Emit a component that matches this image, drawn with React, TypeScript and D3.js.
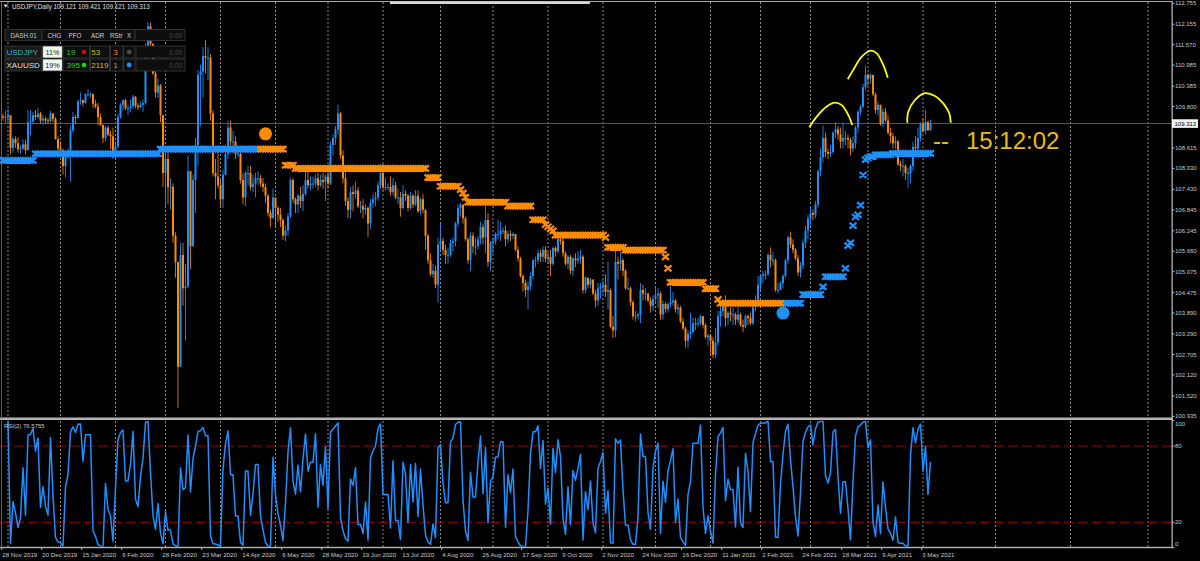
import React from 'react';
import * as d3 from 'd3';

// ---------- DATA ----------
const closes = [
  109.49,109.50,109.55,108.62,108.87,108.75,108.58,108.60,108.72,108.55,
  109.35,109.37,109.55,109.50,109.60,109.40,109.45,109.40,109.38,109.60,
  109.45,108.87,108.60,108.55,108.10,108.38,108.45,109.12,109.50,109.48,
  109.95,109.98,109.90,110.15,110.15,110.15,109.88,109.80,109.50,109.28,
  108.90,109.20,109.00,108.95,108.35,108.65,109.50,109.85,109.98,109.75,
  109.75,109.80,110.08,109.82,109.78,109.85,109.90,111.40,112.10,111.60,
  110.75,110.20,110.40,109.55,107.90,108.30,107.50,107.50,106.10,105.35,
  102.35,105.55,104.60,104.65,107.95,105.80,107.70,108.70,110.70,110.80,
  111.25,111.20,111.20,109.60,107.90,107.80,107.55,107.15,107.85,108.45,
  109.20,108.80,108.80,108.45,108.45,107.70,107.20,107.90,107.90,107.50,
  107.60,107.75,107.75,107.60,107.50,107.25,106.75,106.60,107.20,106.90,
  106.70,106.55,106.10,106.25,106.65,107.70,107.15,107.00,107.25,107.10,
  107.30,107.70,107.55,107.60,107.60,107.75,107.55,107.70,107.65,107.80,
  107.60,108.70,108.90,109.15,109.60,108.40,107.75,107.10,106.85,107.35,
  107.30,107.40,106.95,106.95,106.85,106.90,106.45,107.05,107.15,107.20,
  107.55,107.90,107.50,107.50,107.50,107.35,107.55,107.20,107.20,106.90,
  107.30,107.25,106.90,107.25,107.00,107.25,106.80,107.15,106.85,106.10,
  105.40,105.00,105.10,104.70,105.85,105.95,105.70,105.55,105.55,105.90,
  105.95,106.45,106.90,107.00,106.60,106.00,105.40,106.10,105.80,105.80,
  106.00,106.35,106.05,106.55,105.35,105.90,105.95,106.15,106.15,106.25,
  106.25,106.00,106.15,106.10,106.15,105.70,105.45,104.95,104.75,104.55,
  104.65,104.95,105.40,105.40,105.60,105.50,105.70,105.45,105.50,105.30,
  105.75,105.65,106.00,105.95,105.60,105.30,105.50,105.10,105.45,105.40,
  105.45,105.50,104.55,104.90,104.70,104.85,104.45,104.25,104.60,104.65,
  104.70,104.50,104.55,103.50,103.40,105.35,105.30,105.40,105.10,104.60,
  104.60,104.20,103.80,103.80,103.85,104.55,104.45,104.45,104.25,104.10,
  104.30,104.40,104.45,103.85,104.15,104.00,104.15,104.20,104.25,104.00,
  104.05,103.65,103.45,103.10,103.30,103.35,103.60,103.60,103.60,103.80,
  103.55,103.20,103.25,103.10,102.70,103.05,103.80,103.95,104.25,103.75,
  103.90,103.85,103.85,103.70,103.85,103.55,103.50,103.80,103.75,103.60,
  104.05,104.25,104.70,104.95,105.00,105.00,105.55,105.40,105.40,104.55,
  104.55,104.75,104.95,105.40,106.05,105.85,105.70,105.45,105.05,105.25,
  105.90,106.25,106.60,106.75,106.70,107.00,107.95,108.35,108.90,108.50,
  108.45,108.50,109.05,109.15,109.00,108.80,108.90,108.90,108.85,108.60,
  108.75,109.20,109.65,109.80,110.35,110.70,110.60,110.70,110.15,109.70,
  109.85,109.30,109.65,109.40,109.05,108.95,108.75,108.80,108.15,108.10,
  108.10,107.90,107.90,108.10,108.65,108.60,108.90,109.30,109.10,109.35,
  109.12,109.313,
];
const highs = [
  109.60,109.68,109.73,109.55,108.94,108.95,108.92,108.70,108.86,108.86,
  109.70,109.70,109.65,109.70,109.75,109.65,109.55,109.50,109.48,109.67,
  109.60,109.50,108.95,108.80,108.60,108.50,108.60,109.25,109.65,109.55,
  110.00,110.20,110.00,110.18,110.30,110.20,110.18,110.00,109.90,109.60,
  109.00,109.25,109.25,109.10,109.20,108.80,109.60,109.90,110.00,110.02,
  109.85,110.00,110.13,110.10,109.90,109.95,110.00,111.60,112.22,112.20,
  111.50,110.90,110.60,110.45,109.55,108.55,108.50,107.75,107.60,106.20,
  105.20,105.90,105.90,105.30,108.40,107.30,107.85,108.90,110.85,111.00,
  111.50,111.70,111.50,111.30,109.70,108.30,108.70,107.70,108.00,108.70,
  109.40,109.40,109.10,108.95,108.55,108.60,107.90,107.95,108.10,108.10,
  107.85,107.90,107.95,107.85,107.75,107.60,107.30,106.85,107.45,107.10,
  106.95,106.90,106.60,106.40,106.75,107.75,107.75,107.20,107.30,107.50,
  107.55,108.10,107.95,107.80,107.80,107.85,107.90,107.85,107.90,107.85,
  107.95,108.80,109.00,109.25,109.85,109.65,108.55,107.90,107.20,107.50,
  107.55,107.65,107.50,107.10,107.15,107.00,106.95,107.15,107.30,107.35,
  107.65,108.15,108.15,107.75,107.60,107.80,107.75,107.65,107.45,107.35,
  107.55,107.40,107.30,107.35,107.30,107.40,107.40,107.20,107.30,106.85,
  106.15,105.60,105.30,105.25,106.05,106.45,106.05,105.85,105.75,106.00,
  106.05,106.50,107.00,107.05,107.00,106.65,106.05,106.20,106.20,106.05,
  106.10,106.50,106.45,106.95,106.75,105.95,106.05,106.20,106.55,106.50,
  106.35,106.40,106.25,106.25,106.20,106.15,105.80,105.50,105.00,104.85,
  104.80,105.05,105.45,105.50,105.70,105.70,105.80,105.80,105.65,105.70,
  105.80,105.80,106.10,106.05,106.05,105.65,105.55,105.55,105.50,105.60,
  105.65,105.70,105.55,104.95,104.90,104.90,104.85,104.55,104.75,104.75,
  104.85,105.00,105.35,104.60,103.80,105.67,105.50,105.65,105.45,105.15,
  104.90,104.65,104.25,103.95,103.90,104.75,104.70,104.60,104.45,104.35,
  104.40,104.65,104.60,104.50,104.25,104.20,104.20,104.65,104.50,104.30,
  104.15,104.10,103.75,103.50,103.40,103.90,103.75,103.75,103.75,103.85,
  103.80,103.60,103.30,103.30,103.20,103.45,103.95,104.10,104.30,104.40,
  103.95,104.05,104.05,103.90,104.15,103.90,103.70,103.85,103.85,103.90,
  104.10,104.40,104.95,105.00,105.10,105.10,105.60,105.77,105.65,105.45,
  104.75,104.80,105.00,105.45,106.10,106.22,106.00,105.75,105.55,105.35,
  106.00,106.40,106.70,106.95,106.85,107.10,108.00,108.60,109.25,109.05,
  108.60,108.70,109.10,109.35,109.25,109.20,109.35,109.10,109.00,108.90,
  108.95,109.25,109.70,109.85,110.45,110.97,110.75,110.75,110.70,110.20,
  109.95,109.85,109.75,109.75,109.55,109.20,109.05,108.95,108.85,108.25,
  108.30,108.15,108.05,108.15,108.80,108.95,109.20,109.35,109.45,109.70,
  109.40,109.421,
];
const lows = [
  109.40,109.32,109.34,108.43,108.48,108.62,108.48,108.45,108.55,108.43,
  108.55,108.98,109.30,109.42,109.45,109.30,109.28,109.30,109.30,109.35,
  109.35,108.85,108.45,108.40,107.85,107.78,108.30,107.65,109.05,109.30,
  109.45,109.85,109.80,109.88,110.10,110.05,109.75,109.75,109.27,109.25,
  108.75,108.80,108.95,108.58,108.30,108.30,108.60,109.45,109.70,109.70,
  109.55,109.65,109.75,109.75,109.70,109.75,109.65,109.85,111.30,111.40,
  110.70,110.05,110.05,109.35,107.50,106.95,107.00,106.85,105.90,104.90,
  101.18,102.60,104.10,103.10,104.60,105.15,105.80,106.75,108.10,109.25,
  110.05,110.75,110.55,109.40,107.80,107.15,107.45,106.90,106.90,107.85,
  108.30,108.50,108.50,108.30,108.35,107.60,107.00,106.95,107.55,107.40,
  107.35,107.20,107.55,107.50,107.35,107.05,106.65,106.35,106.60,106.35,
  106.50,106.35,105.98,105.95,106.10,106.60,107.05,106.75,106.75,106.90,
  106.80,107.25,107.45,107.40,107.45,107.50,107.40,107.50,107.45,107.10,
  107.45,107.55,108.40,108.70,109.00,108.30,107.60,106.95,106.60,106.60,
  106.80,107.15,106.90,106.75,106.60,106.70,106.07,106.30,106.90,106.95,
  107.10,107.45,107.40,107.40,107.40,107.25,107.25,107.15,107.00,106.65,
  106.85,107.10,106.80,106.85,106.90,106.95,106.75,106.70,106.75,105.70,
  105.30,104.95,104.90,104.60,104.19,105.65,105.55,105.30,105.30,105.50,
  105.65,105.80,106.35,106.65,106.45,105.95,105.30,105.10,105.60,105.55,
  105.70,105.85,105.85,105.60,105.20,105.10,105.60,105.85,106.00,105.95,
  106.15,105.80,105.90,105.95,106.00,105.65,105.35,104.90,104.50,104.35,
  104.00,104.55,104.85,105.20,105.30,105.35,105.35,105.35,105.30,104.95,
  105.25,105.50,105.60,105.85,105.50,105.25,105.15,105.00,104.95,105.20,
  105.30,105.30,104.45,104.45,104.60,104.60,104.40,104.05,104.10,104.30,
  104.45,104.35,104.00,103.45,103.18,103.20,104.85,105.10,104.95,104.55,
  104.55,104.10,103.70,103.65,103.70,103.60,104.25,104.25,104.20,103.90,
  103.95,104.20,104.05,103.70,103.70,103.90,103.90,104.05,104.10,103.90,
  103.85,103.60,103.40,102.90,102.90,103.15,103.30,103.40,103.50,103.55,
  103.45,103.15,102.95,102.70,102.60,102.60,102.95,103.50,103.80,103.50,
  103.55,103.65,103.55,103.55,103.60,103.50,103.35,103.45,103.55,103.55,
  103.55,103.95,104.15,104.55,104.75,104.85,104.95,105.20,105.25,104.50,
  104.45,104.55,104.60,104.90,105.30,105.75,105.60,105.40,104.95,104.90,
  105.15,105.75,106.00,106.40,106.55,106.60,106.90,107.80,108.20,108.35,
  108.30,108.35,108.45,108.90,108.85,108.60,108.60,108.70,108.60,108.40,
  108.50,108.60,109.05,109.55,109.75,110.25,110.40,110.45,110.10,109.60,
  109.55,109.25,109.20,109.35,109.00,108.75,108.60,108.60,108.10,107.95,
  107.80,107.70,107.48,107.60,107.95,108.55,108.55,108.80,109.05,109.00,
  109.10,109.121,
];
const firstOpen = 109.52;

// trailing-stop markers: [fromBar, toBar, level, dir(1 = blue / -1 = orange)]
const stopSegments = [
  [0, 12, 108.26, 1], [13, 62, 108.45, 1], [63, 102, 108.58, 1],
  [103, 112, 108.58, -1], [113, 116, 108.12, -1], [117, 169, 108.03, -1],
  [170, 174, 107.77, -1], [175, 182, 107.52, -1], [183, 183, 107.42, -1],
  [184, 184, 107.32, -1], [185, 185, 107.2, -1], [186, 201, 107.06, -1],
  [202, 211, 106.95, -1], [212, 216, 106.56, -1], [217, 217, 106.42, -1],
  [218, 218, 106.36, -1], [219, 219, 106.3, -1], [220, 220, 106.24, -1],
  [221, 240, 106.12, -1], [241, 241, 106.05, -1], [242, 248, 105.77, -1],
  [249, 264, 105.69, -1], [265, 265, 105.5, -1], [266, 266, 105.17, -1],
  [267, 280, 104.77, -1], [281, 285, 104.59, -1], [286, 286, 104.28, -1],
  [287, 311, 104.17, -1], [312, 319, 104.17, 1], [320, 327, 104.42, 1],
  [328, 328, 104.64, 1], [329, 336, 104.93, 1], [337, 337, 105.17, 1],
  [338, 338, 105.82, 1], [339, 339, 105.9, 1], [340, 340, 106.39, 1],
  [341, 341, 106.64, 1], [342, 342, 106.7, 1], [343, 343, 106.98, 1],
  [344, 344, 107.84, 1], [345, 345, 108.28, 1], [346, 346, 108.33, 1],
  [347, 348, 108.37, 1], [349, 355, 108.42, 1], [356, 371, 108.46, 1],
];
// signal dots: [bar, price, dir]
const signals = [[105, 109.02, -1], [312, 103.89, 1]];

const priceTicks = [112.755, 112.155, 111.57, 110.985, 110.385, 109.8, 108.615,
  108.03, 107.43, 106.845, 106.245, 105.66, 105.075, 104.475, 103.89, 103.29, 102.705,
  102.12, 101.52, 100.935];
const rsiTicks = [100, 80, 20, 0];
const rsiLevels = [80, 20];
const dateLabels = ['28 Nov 2019', '20 Dec 2019', '15 Jan 2020', '6 Feb 2020', '28 Feb 2020',
  '23 Mar 2020', '14 Apr 2020', '6 May 2020', '28 May 2020', '19 Jun 2020', '13 Jul 2020',
  '4 Aug 2020', '26 Aug 2020', '17 Sep 2020', '9 Oct 2020', '2 Nov 2020', '24 Nov 2020',
  '16 Dec 2020', '11 Jan 2021', '2 Feb 2021', '24 Feb 2021', '18 Mar 2021', '9 Apr 2021',
  '3 May 2021'];
const dateLabelBars = [0, 16, 32, 48, 64, 80, 96, 112, 128, 144, 160, 176, 192, 208, 224,
  240, 256, 272, 288, 304, 320, 336, 352, 368];
const monthStartBars = [2, 23, 45, 65, 87, 109, 130, 152, 175, 196, 218, 240, 261, 283, 303,
  323, 346, 368, 397, 427, 458];

// hand-drawn shoulder/head arcs: [bar, price]
const arcs = [
  [[322.5, 109.206], [325.5, 109.51], [329.5, 109.8], [332.8, 109.91], [335.5, 109.84], [338.1, 109.56], [339.7, 109.27]],
  [[337.9, 110.58], [340.1, 110.85], [343.5, 111.227], [347.1, 111.4], [349.5, 111.324], [352.1, 110.99], [353.9, 110.626]],
  [[361.7, 109.338], [362.1, 109.652], [364.8, 109.987], [368.4, 110.179], [372.8, 110.102], [376.1, 109.893], [378.5, 109.607], [379.1, 109.338]],
];

const lastPrice = 109.313;
const rsiValueText = 'RSI(2) 76.5755';
const titleText = 'USDJPY,Daily  109.121 109.421 109.121 109.313';
const timerText = '15:12:02';

const dashRows = [
  { sym: 'USDJPY', symColor: '#22b8b4', pct: '11%', pfo: '19', pfoDot: '#d01010', adr: '53', rstr: '3', dot: '#4a4a4a' },
  { sym: 'XAUUSD', symColor: '#dcdcdc', pct: '19%', pfo: '395', pfoDot: '#10e010', adr: '2119', rstr: '1', dot: '#1e90ff' },
];

const BLUE = '#1e90ff';
const ORANGE = '#ff8c00';
const FONT = 'Liberation Sans, Arial, sans-serif';

function computeRSI(cl: number[], n: number) {
  const out: (number | null)[] = cl.map(() => null);
  let pos = 0, neg = 0;
  for (let i = 1; i < cl.length; i++) {
    const d = cl[i] - cl[i - 1];
    const g = Math.max(d, 0), l = Math.max(-d, 0);
    if (i <= n) {
      pos += g / n; neg += l / n;
      if (i < n) continue;
    } else {
      pos = (pos * (n - 1) + g) / n;
      neg = (neg * (n - 1) + l) / n;
    }
    out[i] = neg === 0 ? 100 : 100 - 100 / (1 + pos / neg);
  }
  return out;
}

export default function App() {
  const n = closes.length;
  const x = d3.scaleLinear().domain([0, n - 1]).range([3, 3 + 2.5 * (n - 1)]);
  const y = d3.scaleLinear().domain([100.935, 112.755]).range([416.3, 3.3]);
  const yR = d3.scaleLinear().domain([0, 100]).range([547.7, 420.6]);
  const AX = 1172;

  const opens = closes.map((c, i) => (i === 0 ? firstOpen : closes[i - 1]));
  const rsi = computeRSI(closes, 2);

  const bullWicks: string[] = [], bearWicks: string[] = [], bullBodies: string[] = [], bearBodies: string[] = [];
  closes.forEach((c, i) => {
    const o = opens[i];
    const h = Math.max(highs[i], o, c);
    const l = Math.min(lows[i], o, c);
    const cx = x(i);
    const bull = c >= o;
    const wick = `M${cx},${y(h)}V${y(l)}`;
    const top = y(Math.max(o, c));
    const bot = Math.max(y(Math.min(o, c)), top + 1);
    const body = `M${cx - 1},${top}H${cx + 1}V${bot}H${cx - 1}Z`;
    (bull ? bullWicks : bearWicks).push(wick);
    (bull ? bullBodies : bearBodies).push(body);
  });

  const stopPaths: { [k: string]: string[] } = { '1': [], '-1': [] };
  stopSegments.forEach(([a, b, lvl, dir]) => {
    for (let i = a; i <= b; i++) {
      const cx = x(i), cy = y(lvl);
      stopPaths[String(dir)].push(
        `M${cx - 3.5},${cy - 3}L${cx + 3.5},${cy + 3}M${cx - 3.5},${cy + 3}L${cx + 3.5},${cy - 3}`
      );
    }
  });

  const rsiLine = d3.line<number | null>()
    .defined((d) => d !== null)
    .x((_, i) => x(i))
    .y((d) => yR(d as number))(rsi) || '';

  const arcLine = d3.line<number[]>().x((d) => x(d[0])).y((d) => y(d[1])).curve(d3.curveCatmullRom);

  const rowY = [46, 59];

  return (
    <svg width={1200} height={561} style={{ position: 'fixed', left: 0, top: 0, background: '#000', fontFamily: FONT }}>
      <defs>
        <clipPath id="mainClip"><rect x={0} y={2} width={AX} height={415.5} /></clipPath>
        <clipPath id="rsiClip"><rect x={0} y={420.5} width={AX} height={126.3} /></clipPath>
      </defs>
      <rect x={0} y={0} width={1200} height={561} fill="#000" />

      {/* vertical month grid */}
      {monthStartBars.map((b) => (
        <g key={'g' + b}>
          <line x1={x(b)} x2={x(b)} y1={2} y2={417} stroke="#8c8c8c" strokeWidth={1} strokeDasharray="2,2" />
          <line x1={x(b)} x2={x(b)} y1={421} y2={547} stroke="#8c8c8c" strokeWidth={1} strokeDasharray="2,2" />
        </g>
      ))}

      {/* current price line */}
      <line x1={0} x2={AX} y1={y(lastPrice)} y2={y(lastPrice)} stroke="#5a5a5a" strokeWidth={1} />

      <g clipPath="url(#mainClip)">
        <path d={bullWicks.join('')} stroke={BLUE} strokeWidth={1} strokeOpacity={0.85} fill="none" />
        <path d={bearWicks.join('')} stroke={ORANGE} strokeWidth={1} strokeOpacity={0.8} fill="none" />
        <path d={bullBodies.join('')} fill={BLUE} />
        <path d={bearBodies.join('')} fill={ORANGE} />
        <path d={stopPaths['1'].join('')} stroke={BLUE} strokeWidth={2.2} fill="none" />
        <path d={stopPaths['-1'].join('')} stroke={ORANGE} strokeWidth={2.2} fill="none" />
        {signals.map(([b, p, dir]) => (
          <circle key={'s' + b} cx={x(b)} cy={y(p)} r={6.5} fill={dir > 0 ? BLUE : ORANGE} />
        ))}
        {arcs.map((pts, i) => (
          <path key={'arc' + i} d={arcLine(pts as number[][]) || ''} stroke="#ffff00" strokeWidth={1.8} fill="none" />
        ))}
      </g>

      {/* countdown */}
      <text x={x(n - 1) + 2.5} y={149} fontSize={24} fill="#e6bd10" fontFamily={FONT}>--</text>
      <text x={966} y={149} fontSize={24} fill="#e6bd10" fontFamily={FONT}>{timerText}</text>

      {/* RSI panel */}
      {rsiLevels.map((v) => (
        <line key={'lv' + v} x1={0} x2={AX} y1={yR(v)} y2={yR(v)} stroke="#a00000" strokeWidth={1} strokeDasharray="10,4" />
      ))}
      <g clipPath="url(#rsiClip)">
        <path d={rsiLine} stroke={BLUE} strokeWidth={1.5} fill="none" strokeLinejoin="round" />
      </g>
      <text x={4} y={427.5} fontSize={6} fill="#c8c8c8">{rsiValueText}</text>

      {/* frame */}
      <rect x={0} y={1} width={AX} height={1} fill="#a8a8a8" />
      <rect x={0} y={417.5} width={AX + 1} height={2.5} fill="#b4b4b4" />
      <rect x={0} y={546.8} width={AX + 1} height={1.4} fill="#b4b4b4" />
      <rect x={AX - 0.5} y={1} width={1.3} height={547} fill="#b4b4b4" />
      <rect x={1} y={1} width={0.8} height={547} fill="#7a7a7a" />
      <rect x={390} y={1.5} width={200} height={2.5} fill="#d8d8d8" />

      {/* price axis */}
      {priceTicks.map((v) => (
        <g key={'pt' + v}>
          <line x1={AX} x2={AX + 2.5} y1={y(v)} y2={y(v)} stroke="#b4b4b4" strokeWidth={1} />
          <text x={AX + 3} y={y(v)} dy="0.35em" fontSize={6} fill="#c8c8c8">{v.toFixed(3)}</text>
        </g>
      ))}
      <rect x={AX} y={y(lastPrice) - 4.3} width={26} height={8.6} fill="#f4f4f4" />
      <text x={AX + 2.5} y={y(lastPrice)} dy="0.35em" fontSize={6} fill="#000">{lastPrice.toFixed(3)}</text>

      {/* RSI axis */}
      {rsiTicks.map((v) => {
        const ty = Math.min(Math.max(yR(v), 424), 544);
        return (
          <g key={'rt' + v}>
            <line x1={AX} x2={AX + 2.5} y1={yR(v)} y2={yR(v)} stroke="#b4b4b4" strokeWidth={1} />
            <text x={AX + 3} y={ty} dy="0.35em" fontSize={6} fill="#c8c8c8">{String(v)}</text>
          </g>
        );
      })}

      {/* date axis */}
      {dateLabels.map((lab, i) => {
        const bx = x(dateLabelBars[i]) - 1.3;
        return (
          <g key={'d' + i}>
            <line x1={bx} x2={bx} y1={547.5} y2={550} stroke="#b4b4b4" strokeWidth={1} />
            <text x={bx + 0.5} y={556.5} fontSize={6.2} fill="#c8c8c8">{lab}</text>
          </g>
        );
      })}

      {/* title */}
      <path d="M3.5,4.5 L8,4.5 L5.75,7.5 Z" fill="#e0e0e0" />
      <text x={12} y={8.5} fontSize={6.3} fill="#e0e0e0">{titleText}</text>

      {/* dashboard */}
      <g>
        <rect x={5} y={29.5} width={37} height={11} fill="#161616" stroke="#3a3a3a" strokeWidth={0.8} />
        <rect x={42} y={29.5} width={93} height={11} fill="#0e0e0e" stroke="#3a3a3a" strokeWidth={0.8} />
        <rect x={135} y={29.5} width={50} height={11} fill="#0e0e0e" stroke="#3a3a3a" strokeWidth={0.8} />
        <text x={10.5} y={37.6} fontSize={6.3} fill="#c4c4c4">DASH.01</text>
        <text x={47.5} y={37.6} fontSize={6.3} fill="#d0d0d0">CHG</text>
        <text x={68.5} y={37.6} fontSize={6.3} fill="#d0d0d0">PFO</text>
        <text x={91} y={37.6} fontSize={6.3} fill="#d0d0d0">ADR</text>
        <text x={110} y={37.6} fontSize={6.3} fill="#d0d0d0">RStr</text>
        <text x={127} y={37.6} fontSize={6.3} fill="#d0d0d0">X</text>
        <text x={182} y={37.8} fontSize={6.5} fill="#4a4a4a" textAnchor="end">0.00</text>
        {dashRows.map((r, k) => {
          const ry = rowY[k];
          const h = 12;
          const ty = ry + 9;
          return (
            <g key={'row' + k}>
              <rect x={5} y={ry} width={37} height={h} fill="#1a1a1a" stroke="#3a3a3a" strokeWidth={0.8} />
              <rect x={42.7} y={ry} width={19.6} height={h} fill="#eef8ee" stroke="#3a3a3a" strokeWidth={0.8} />
              <rect x={63} y={ry} width={26.5} height={h} fill="#0e0e0e" stroke="#3a3a3a" strokeWidth={0.8} />
              <rect x={90.5} y={ry} width={19} height={h} fill="#0e0e0e" stroke="#3a3a3a" strokeWidth={0.8} />
              <rect x={110.5} y={ry} width={12.5} height={h} fill="#0e0e0e" stroke="#3a3a3a" strokeWidth={0.8} />
              <rect x={123.5} y={ry} width={11.5} height={h} fill="#0e0e0e" stroke="#3a3a3a" strokeWidth={0.8} />
              <rect x={136} y={ry} width={49} height={h} fill="#0e0e0e" stroke="#3a3a3a" strokeWidth={0.8} />
              <text x={6.5} y={ty} fontSize={8} fill={r.symColor}>{r.sym}</text>
              <text x={52.5} y={ty - 0.3} fontSize={7.2} fill="#222" textAnchor="middle">{r.pct}</text>
              <text x={66.5} y={ty} fontSize={8} fill="#2ec82e">{r.pfo}</text>
              <circle cx={84} cy={ry + 6} r={2.3} fill={r.pfoDot} />
              <text x={91.3} y={ty} fontSize={8} fill="#c8c400">{r.adr}</text>
              <text x={113.2} y={ty} fontSize={8} fill="#e08a10">{r.rstr}</text>
              <circle cx={129.2} cy={ry + 6} r={2.4} fill={r.dot} />
              <text x={182} y={ty} fontSize={6.5} fill="#4a4a4a" textAnchor="end">0.00</text>
            </g>
          );
        })}
      </g>
    </svg>
  );
}
